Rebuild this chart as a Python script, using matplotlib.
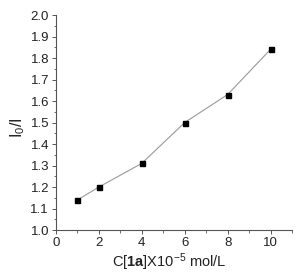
import matplotlib
matplotlib.use("Agg")
import matplotlib.pyplot as plt
from matplotlib.ticker import MultipleLocator

# concentration (x 1e-5 mol/L) and I0/I ratio
conc = [1, 2, 4, 6, 8, 10]
ratio = [1.14, 1.20, 1.31, 1.50, 1.63, 1.84]

plt.rcParams['font.family'] = ['Liberation Sans', 'DejaVu Sans']
plt.rcParams['mathtext.fontset'] = 'custom'
plt.rcParams['mathtext.rm'] = 'Liberation Sans'
plt.rcParams['mathtext.it'] = 'Liberation Sans'
plt.rcParams['mathtext.bf'] = 'Liberation Sans:bold'

fig = plt.figure(figsize=(2.97, 2.75), dpi=100)
ax = fig.add_axes([0.1886, 0.1636, 0.7944, 0.7818])

ax.plot(conc, ratio, color="#999999", lw=0.8, marker="s", ms=3.6,
        mfc="black", mec="black")

ax.set_xlim(0, 11)
ax.set_ylim(1.0, 2.0)
ax.xaxis.set_major_locator(MultipleLocator(2))
ax.xaxis.set_minor_locator(MultipleLocator(1))
ax.yaxis.set_major_locator(MultipleLocator(0.1))
ax.yaxis.set_minor_locator(MultipleLocator(0.05))
ax.yaxis.set_major_formatter(plt.FormatStrFormatter('%.1f'))

for s in ["top", "right"]:
    ax.spines[s].set_visible(False)
for s in ["left", "bottom"]:
    ax.spines[s].set_color("#555555")
    ax.spines[s].set_linewidth(0.8)

ax.tick_params(which="major", length=3, width=0.7, colors="#555555",
               labelcolor="#222222", labelsize=9.5, pad=2)
ax.tick_params(which="minor", length=1.8, width=0.6, colors="#555555")

ax.set_xlabel(r"C[$\mathbf{1a}$]X10$^{\mathrm{-5}}$ mol/L", fontsize=10.5,
              color="#222222")
ax.xaxis.set_label_coords(0.479, -0.1, transform=ax.transAxes)
ax.xaxis.label.set_va("top")
ax.set_ylabel(r"I$_{0}$/I", fontsize=11.5, color="#222222")
ax.yaxis.set_label_coords(-0.125, 0.474, transform=ax.transAxes)

fig.savefig("out.png", dpi=100)
